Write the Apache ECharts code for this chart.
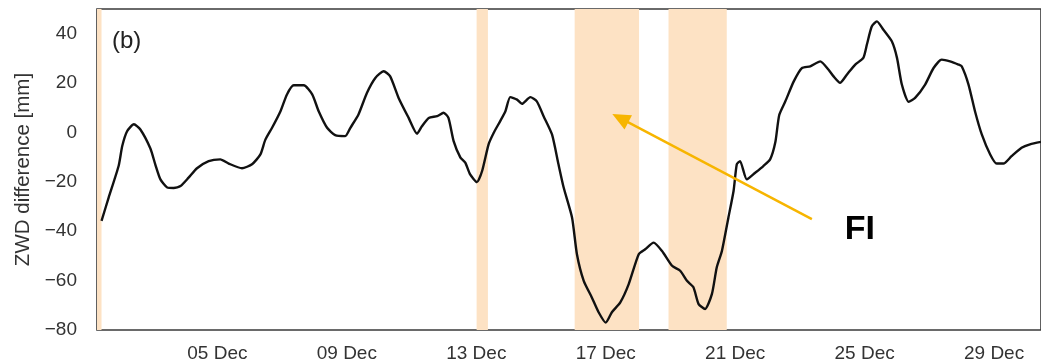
<!DOCTYPE html>
<html>
<head>
<meta charset="utf-8">
<script src="https://cdn.jsdelivr.net/npm/echarts@6/dist/echarts.min.js"></script>
<style>
  html, body { margin: 0; padding: 0; background: #fff; }
  #chart { width: 1041px; height: 363px; }
</style>
</head>
<body>
<div id="chart"></div>
<script>
// Time in days of December (fractional), ZWD difference in mm
const days = [
  1.42, 1.64, 1.95, 2.06, 2.21, 2.42, 2.62, 2.93, 3.08, 3.24, 3.45, 3.65, 3.86, 4.11, 4.37, 4.73,
  5.09, 5.35, 5.76, 6.07, 6.33, 6.48, 6.69, 6.95, 7.15, 7.36, 7.67, 7.93, 8.13, 8.39, 8.64, 8.95,
  9.11, 9.36, 9.62, 9.88, 10.14, 10.34, 10.60, 10.91, 11.17, 11.32, 11.53, 11.79, 11.99, 12.14,
  12.30, 12.51, 12.66, 12.81, 13.02, 13.18, 13.38, 13.54, 13.74, 13.90, 14.05, 14.26, 14.41,
  14.67, 14.87, 15.08, 15.34, 15.54, 15.70, 15.96, 16.11, 16.32, 16.57, 16.78, 17.00, 17.19,
  17.45, 17.71, 18.02, 18.22, 18.48, 18.74, 19.05, 19.30, 19.51, 19.71, 19.87, 20.07, 20.28,
  20.43, 20.59, 20.79, 20.95, 21.05, 21.15, 21.36, 21.62, 21.87, 22.08, 22.24, 22.36, 22.55,
  22.81, 23.06, 23.32, 23.63, 23.88, 24.04, 24.24, 24.45, 24.71, 24.96, 25.07, 25.22, 25.38,
  25.58, 25.84, 26.00, 26.15, 26.36, 26.56, 26.87, 27.13, 27.38, 27.64, 27.90, 28.00, 28.21,
  28.41, 28.62, 28.88, 29.08, 29.29, 29.54, 29.85, 30.11, 30.45
];
const zwdDiff = [
  -35.8, -26.4, -13.5, -5.5, 0.5, 3.3, 1.2, -6.5, -12.9, -19.0, -22.3, -22.5, -21.7, -18.3, -14.5, -11.6,
  -10.9, -12.6, -14.5, -12.9, -8.9, -3.0, 1.9, 8.6, 15.4, 19.1, 19.1, 15.4, 8.6, 1.9, -1.1, -1.5,
  1.9, 7.3, 16.0, 22.1, 24.8, 22.7, 14.0, 5.9, -0.5, 2.5, 5.9, 6.6, 8.0, 5.9,
  -3.5, -10.2, -12.2, -17.0, -20.1, -15.6, -4.8, -0.1, 4.6, 8.6, 14.3, 13.3, 11.6,
  14.3, 12.6, 6.6, -0.8, -12.9, -22.3, -34.5, -49.3, -60.1, -66.8, -72.8, -77.0, -72.8,
  -68.8, -61.4, -49.3, -47.3, -44.6, -48.0, -54.0, -56.0, -60.1, -62.7, -69.5, -71.5, -65.5,
  -54.7, -48.0, -34.5, -23.7, -12.9, -11.6, -19.0, -16.3, -13.6, -10.9, -4.0, 7.0, 12.6,
  20.7, 26.1, 26.8, 28.8, 25.5, 22.7, 20.1, 23.4, 27.5, 30.2, 35.6, 42.9, 45.0,
  41.6, 36.9, 30.2, 19.4, 12.4, 14.0, 19.4, 26.1, 29.5, 28.8, 27.5, 26.8, 19.4,
  8.6, -0.8, -8.9, -12.6, -12.6, -9.6, -6.2, -4.8, -3.8
];

// Shaded periods (start day, end day)
const periodStart = [1.20, 13.01, 16.04, 18.94];
const periodEnd   = [1.42, 13.36, 18.03, 20.74];

// Axis settings
const xMin = 1.28, xMax = 30.45;
const xTickDays = [5, 9, 13, 17, 21, 25, 29];
const yTicks = [-80, -60, -40, -20, 0, 20, 40];

// Annotation: arrow from the label towards the shaded period
const arrowFrom = [23.37, -35.1];
const arrowTo = [17.45, 5.8];
const labelPos = [24.85, -39.5];
const labelText = 'FI';

const chart = echarts.init(document.getElementById('chart'), null, { renderer: 'canvas' });

const lineData = days.map((d, i) => [d, zwdDiff[i]]);
const areas = periodStart.map((s, i) => [
  { xAxis: Math.max(s, xMin) }, { xAxis: periodEnd[i] }
]);

const fontFamily = '"Liberation Sans", Arial, sans-serif';

chart.setOption({
  animation: false,
  backgroundColor: '#ffffff',
  title: {
    text: '(b)',
    left: 107,
    top: 24,
    textStyle: { fontFamily, fontSize: 24, fontWeight: 'normal', color: '#222' }
  },
  grid: {
    left: 97, top: 9, right: -1, bottom: 33,
    show: true, borderColor: '#3a3a3a', borderWidth: 1.6, backgroundColor: 'transparent'
  },
  xAxis: {
    type: 'value',
    min: xMin,
    max: xMax,
    axisLine: { show: false },
    axisTick: { show: false },
    splitLine: { show: false },
    axisLabel: {
      customValues: xTickDays,
      margin: 14,
      fontFamily, fontSize: 19, color: '#333',
      formatter: v => String(Math.round(v)).padStart(2, '0') + ' Dec'
    }
  },
  yAxis: {
    type: 'value',
    min: -80,
    max: 50,
    name: 'ZWD difference [mm]',
    nameLocation: 'middle',
    nameGap: 55,
    nameTextStyle: { fontFamily, fontSize: 20.5, color: '#333' },
    axisLine: { show: false },
    axisTick: { show: false },
    splitLine: { show: false },
    axisLabel: {
      customValues: yTicks,
      margin: 20,
      fontFamily, fontSize: 19, color: '#333',
      formatter: v => (v < 0 ? '\u2212' + Math.abs(v) : String(v))
    }
  },
  series: [
    {
      name: 'periods',
      type: 'line',
      data: [],
      z: 1,
      silent: true,
      markArea: {
        silent: true,
        itemStyle: { color: '#fde2c4', opacity: 1 },
        data: areas
      }
    },
    {
      name: 'ZWD difference',
      type: 'line',
      data: lineData,
      z: 3,
      showSymbol: false,
      smooth: 0.2,
      lineStyle: { color: '#111', width: 2.4 },
      markLine: {
        silent: true,
        symbol: ['none', 'triangle'],
        symbolSize: [16, 18],
        label: { show: false },
        lineStyle: { color: '#f7b500', width: 2.4, type: 'solid' },
        data: [[{ coord: arrowFrom }, { coord: arrowTo }]]
      },
      markPoint: {
        silent: true,
        symbol: 'circle',
        symbolSize: 0,
        label: {
          show: true,
          formatter: labelText,
          fontFamily: '"Liberation Sans", Arial, sans-serif',
          fontSize: 34,
          fontWeight: 'bold',
          color: '#000'
        },
        data: [{ coord: labelPos }]
      }
    }
  ]
});
</script>
</body>
</html>
